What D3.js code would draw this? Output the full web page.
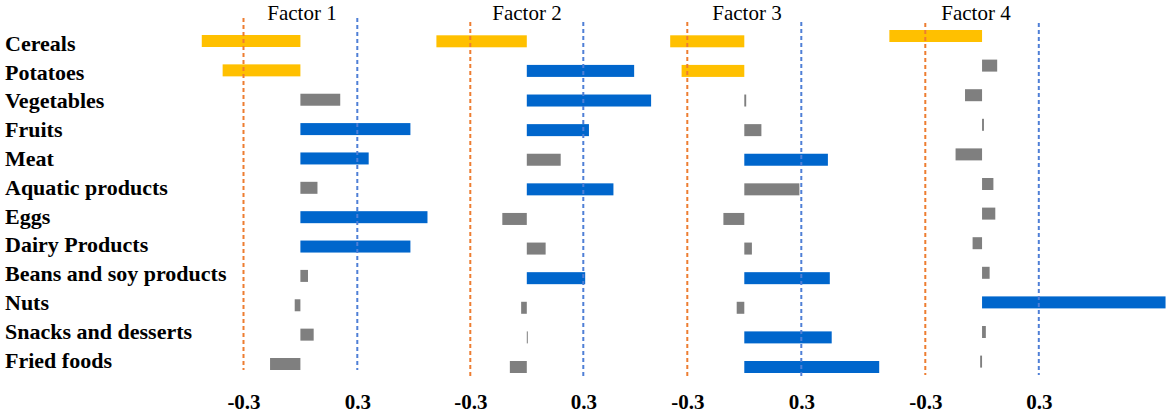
<!DOCTYPE html>
<html>
<head>
<meta charset="utf-8">
<script src="https://cdn.jsdelivr.net/npm/d3@7"></script>
<style>
  body { margin: 0; background: #fff; }
  svg { display: block; font-family: "Liberation Serif", "Times New Roman", serif; }
</style>
</head>
<body>
<div id="chart"></div>
<script>
// Food groups (rows, top to bottom)
const categories = [
    "Cereals",
    "Potatoes",
    "Vegetables",
    "Fruits",
    "Meat",
    "Aquatic products",
    "Eggs",
    "Dairy Products",
    "Beans and soy products",
    "Nuts",
    "Snacks and desserts",
    "Fried foods",
];

// Factor loadings
const factor1 = [-0.52, -0.41, 0.21, 0.58, 0.36, 0.09, 0.67, 0.58, 0.04, -0.03, 0.07, -0.16];
const factor2 = [-0.48, 0.57, 0.66, 0.33, 0.18, 0.46, -0.13, 0.10, 0.31, -0.03, 0.005, -0.09];
const factor3 = [-0.39, -0.33, 0.01, 0.09, 0.44, 0.29, -0.11, 0.04, 0.45, -0.04, 0.46, 0.71];
const factor4 = [-0.49, 0.08, -0.09, 0.01, -0.14, 0.06, 0.07, -0.05, 0.04, 0.97, 0.02, -0.01];

const factorNames = ["Factor 1", "Factor 2", "Factor 3", "Factor 4"];
const factorValues = [factor1, factor2, factor3, factor4];

// Cut-off lines and their tick labels
const cutoffs = [-0.3, 0.3];
const tickLabels = ["-0.3", "0.3"];

const width = 1170,
    height = 413;

// Each factor is its own little panel (pixel spots of the -0.3 / 0.3 lines)
const panels = [
    { lo: 243.5, hi: 357.3, top: 41, bottom: 364, lineTop: 18, lineBottom: 370, titleX: 302 },
    { lo: 470.3, hi: 583.3, top: 41.3, bottom: 367, lineTop: 22, lineBottom: 377, titleX: 527 },
    { lo: 687.3, hi: 801.3, top: 41.3, bottom: 367, lineTop: 22, lineBottom: 377, titleX: 747 },
    { lo: 925.3, hi: 1038.8, top: 36, bottom: 361.6, lineTop: 23, lineBottom: 375, titleX: 976 },
];

const barHeight = 12;

// Colour by loading: strong positive / strong negative / weak
const colorFor = (v) => (v >= 0.3 ? "#0066CC" : v <= -0.3 ? "#FFC000" : "#7F7F7F");
const lineColors = ["#ED7D31", "#4F7FD6"];

const svg = d3
    .select("#chart")
    .append("svg")
    .attr("width", width)
    .attr("height", height);

// Row labels on the left
const labelY = d3.scalePoint().domain(categories).range([43, 360]);

svg
    .append("g")
    .selectAll("text")
    .data(categories)
    .enter()
    .append("text")
    .attr("x", 5)
    .attr("y", (d) => labelY(d))
    .attr("dy", "0.35em")
    .attr("font-size", 22)
    .attr("font-weight", "bold")
    .attr("fill", "#000")
    .text((d) => d);

panels.forEach((p, i) => {
    const xScale = d3.scaleLinear().domain(cutoffs).range([p.lo, p.hi]);
    const yScale = d3.scalePoint().domain(categories).range([p.top, p.bottom]);
    const g = svg.append("g").attr("class", "panel");

    const rows = categories.map((c, j) => ({ name: c, value: factorValues[i][j] }));

    // Bars from zero
    g.selectAll("rect")
        .data(rows)
        .enter()
        .append("rect")
        .attr("x", (d) => Math.min(xScale(0), xScale(d.value)))
        .attr("y", (d) => yScale(d.name) - barHeight / 2)
        .attr("width", (d) => Math.max(1, Math.abs(xScale(d.value) - xScale(0))))
        .attr("height", barHeight)
        .attr("fill", (d) => colorFor(d.value));

    // Dashed cut-off lines
    g.selectAll("line")
        .data(cutoffs)
        .enter()
        .append("line")
        .attr("x1", (d) => xScale(d))
        .attr("x2", (d) => xScale(d))
        .attr("y1", p.lineTop)
        .attr("y2", p.lineBottom)
        .attr("stroke", (d, k) => lineColors[k])
        .attr("stroke-width", 2)
        .attr("stroke-dasharray", "4 3");

    // Factor title
    svg
        .append("text")
        .attr("x", p.titleX)
        .attr("y", 20)
        .attr("text-anchor", "middle")
        .attr("font-size", 21)
        .attr("fill", "#000")
        .text(factorNames[i]);

    // Tick labels under the cut-off lines
    const axis = svg
        .append("g")
        .attr("transform", "translate(0,394)")
        .call(
            d3.axisBottom(xScale)
                .tickValues(cutoffs)
                .tickFormat((d, k) => tickLabels[k])
                .tickSize(0)
                .tickPadding(0)
        );
    axis.select(".domain").remove();
    axis
        .selectAll("text")
        .attr("font-family", "Liberation Serif, Times New Roman, serif")
        .attr("font-size", 21)
        .attr("font-weight", "bold")
        .attr("fill", "#000");
});
</script>
</body>
</html>
